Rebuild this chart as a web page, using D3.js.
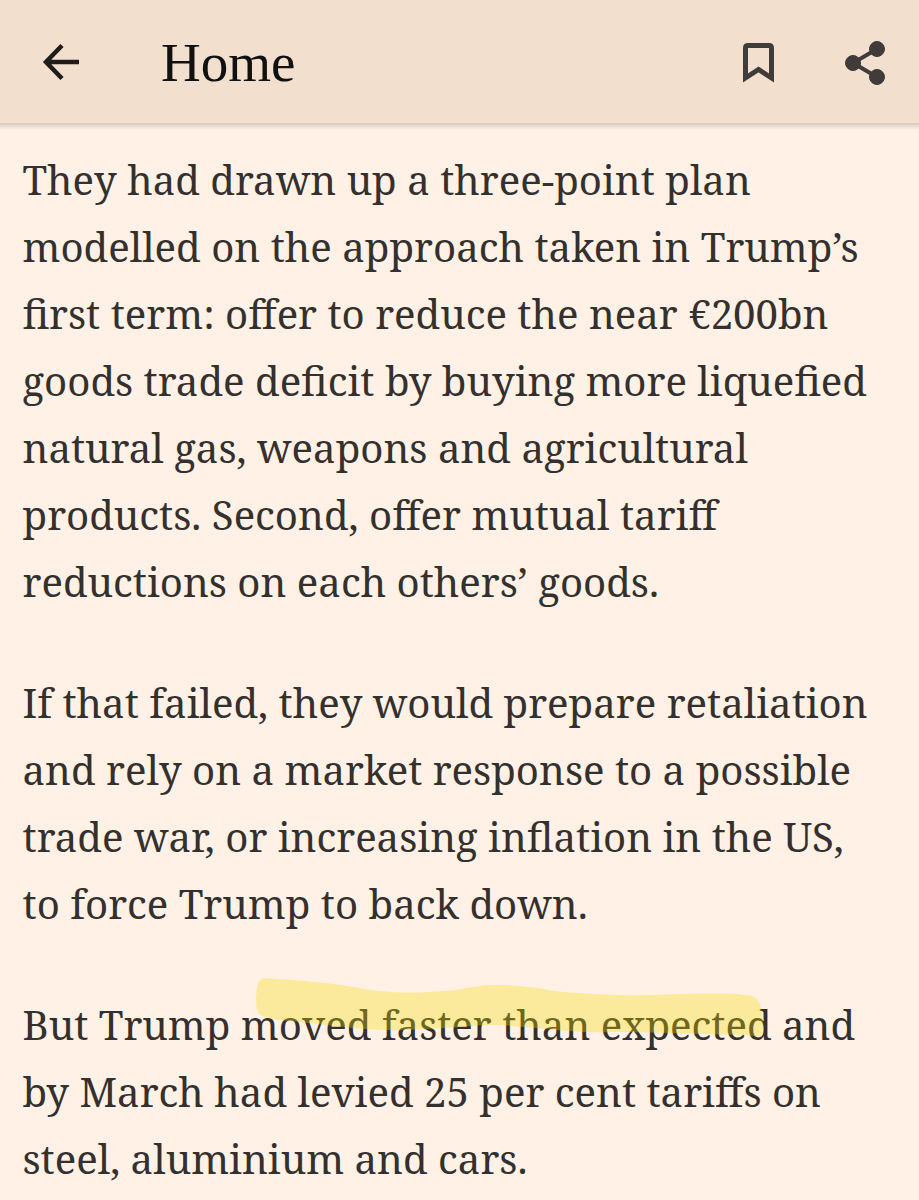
<!DOCTYPE html>
<html>
<head>
<meta charset="utf-8">
<script src="https://cdnjs.cloudflare.com/ajax/libs/d3/7.8.5/d3.min.js"></script>
<style>
html, body { margin: 0; padding: 0; background: #fff1e5; }
svg { display: block; }
</style>
</head>
<body>
<script>
const pageTitle = "Home";
const bodyLines = [
  "They had drawn up a three-point plan",
  "modelled on the approach taken in Trump’s",
  "first term: offer to reduce the near €200bn",
  "goods trade deficit by buying more liquefied",
  "natural gas, weapons and agricultural",
  "products. Second, offer mutual tariff",
  "reductions on each others’ goods.",
  "If that failed, they would prepare retaliation",
  "and rely on a market response to a possible",
  "trade war, or increasing inflation in the US,",
  "to force Trump to back down.",
  "But Trump moved faster than expected and",
  "by March had levied 25 per cent tariffs on",
  "steel, aluminium and cars."
];
const lineBaselines = [195, 262, 329, 396, 463, 530, 597, 718, 785, 852, 919, 1040, 1107, 1174];

// Outline of the highlighter stroke
const highlightX = [258, 262, 277, 326, 391, 445, 491, 529, 564, 621, 751, 759, 761, 745, 621, 583, 525, 491, 445, 384, 300, 269, 258];
const highlightY = [984, 979, 979, 983, 992, 991, 985, 987, 992, 995, 996, 1002, 1035, 1035, 1032, 1032, 1027, 1025, 1028, 1030, 1022, 1018, 1012];

const width = 919, height = 1200;
const svg = d3.select("body").append("svg")
    .attr("width", width)
    .attr("height", height);

// Drop shadow under the header bar
const defs = svg.append("defs");
const shadow = defs.append("linearGradient")
    .attr("id", "barShadow")
    .attr("x1", 0).attr("y1", 0).attr("x2", 0).attr("y2", 1);
shadow.append("stop").attr("offset", 0).attr("stop-color", "#000").attr("stop-opacity", 0.16);
shadow.append("stop").attr("offset", 1).attr("stop-color", "#000").attr("stop-opacity", 0);

svg.append("rect").attr("width", width).attr("height", height).attr("fill", "#fff1e5");

// Body text
svg.append("g").selectAll("text")
    .data(bodyLines)
    .join("text")
    .attr("x", 22.5)
    .attr("y", (d, i) => lineBaselines[i])
    .attr("font-family", "'Noto Serif', 'DejaVu Serif', 'Liberation Serif', serif")
    .attr("font-size", 40.15)
    .attr("fill", "#33302e")
    .text(d => d);

// Highlighter stroke goes over the text, the letters show through olive
const outline = d3.line().x(d => d[0]).y(d => d[1]).curve(d3.curveCatmullRomClosed.alpha(0.5));
svg.append("path")
    .attr("d", outline(d3.zip(highlightX, highlightY)))
    .attr("fill", "#f3de00")
    .attr("fill-opacity", 0.32);

// Header
svg.append("rect").attr("y", 123).attr("width", width).attr("height", 7).attr("fill", "url(#barShadow)");
svg.append("rect").attr("width", width).attr("height", 123).attr("fill", "#f2dfce");

svg.append("text")
    .attr("x", 161).attr("y", 81)
    .attr("font-family", "'Liberation Serif', serif")
    .attr("font-size", 55)
    .attr("fill", "#111")
    .text(pageTitle);

// Back arrow
svg.append("path")
    .attr("d", "M79,62 H47 M62,45.5 L46,62 L62,78.5")
    .attr("fill", "none").attr("stroke", "#1f1c1a").attr("stroke-width", 4.5);

// Bookmark icon
svg.append("path")
    .attr("d", "M745.5,48 Q745.5,45.5 748,45.5 H769 Q771.5,45.5 771.5,48 V78 L758.5,69.5 L745.5,78 Z")
    .attr("fill", "none").attr("stroke", "#3f3c3a").attr("stroke-width", 5);

// Share icon
const share = svg.append("g").attr("fill", "#3f3c3a").attr("stroke", "#3f3c3a");
share.append("path").attr("d", "M877,49 L853,63 L877,77").attr("fill", "none").attr("stroke-width", 4);
share.append("circle").attr("cx", 877).attr("cy", 49).attr("r", 7.5);
share.append("circle").attr("cx", 853).attr("cy", 63).attr("r", 7.5);
share.append("circle").attr("cx", 877).attr("cy", 77).attr("r", 7.5);
</script>
</body>
</html>
